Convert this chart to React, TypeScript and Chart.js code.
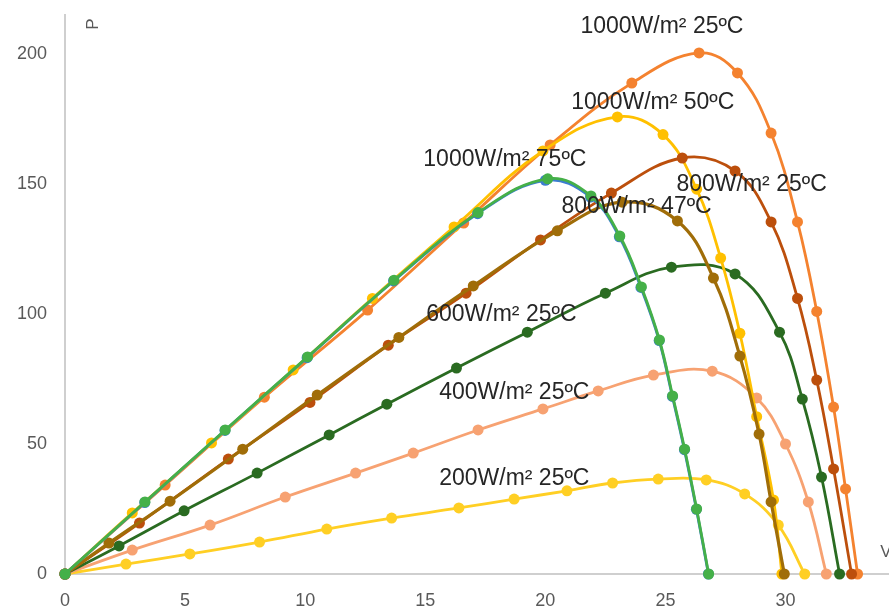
import React, { useEffect, useRef } from 'react';
import { Chart, registerables } from 'chart.js';

Chart.register(...registerables);

// P-V curves of a PV module: voltage V (x) and power P (y)
const v1000_25 = [0, 4.17, 8.3, 12.6, 16.6, 20.2, 23.6, 26.4, 28.0, 29.4, 30.5, 31.3, 32.0, 32.5, 33.0];
const p1000_25 = [0, 34.2, 68, 101.5, 135, 165, 188.8, 200.4, 192.7, 169.6, 135.4, 101, 64.2, 32.7, 0];

const v1000_50 = [0, 2.8, 6.1, 9.5, 12.8, 16.2, 19.9, 23.0, 24.9, 26.3, 27.3, 28.1, 28.8, 29.5, 29.85];
const p1000_50 = [0, 23.5, 50.4, 78.5, 106, 133.5, 162.7, 175.8, 169, 148, 121.5, 92.6, 60.5, 28.5, 0];

const v1000_75 = [0, 3.33, 6.67, 10.1, 13.7, 17.2, 20.1, 21.9, 23.1, 24.0, 24.75, 25.3, 25.8, 26.3, 26.8];
const p1000_75 = [0, 27.7, 55.4, 83.5, 113, 139, 152, 145.4, 130, 110.4, 90, 68.5, 48, 25, 0];

const v1000_75b = [0, 3.32, 6.66, 10.08, 13.68, 17.18, 20.0, 21.88, 23.08, 23.98, 24.74, 25.29, 25.79, 26.29, 26.79];
const p1000_75b = [0, 27.5, 55.2, 83.2, 112.7, 138.6, 151.4, 145.0, 129.7, 110.2, 89.8, 68.3, 47.8, 24.9, 0];

const v800_25 = [0, 3.1, 6.8, 10.2, 13.46, 16.7, 19.8, 22.75, 25.7, 27.9, 29.4, 30.5, 31.3, 32.0, 32.75];
const p800_25 = [0, 19.6, 44.2, 66, 88, 108, 128.5, 146.5, 160, 155, 135.4, 106, 74.6, 40.4, 0];

const v800_47 = [0, 1.83, 4.375, 7.4, 10.5, 13.9, 17.0, 20.5, 23.2, 25.5, 27.0, 28.1, 28.9, 29.4, 29.95];
const p800_47 = [0, 11.9, 28, 48, 68.8, 91, 110.8, 132, 143, 135.8, 113.8, 83.8, 53.8, 27.7, 0];

const v600_25 = [0, 2.25, 4.96, 8.0, 11.0, 13.4, 16.3, 19.25, 22.5, 25.25, 27.9, 29.75, 30.7, 31.5, 32.25];
const p600_25 = [0, 10.8, 24.3, 38.8, 53.5, 65.3, 79.2, 93, 108, 118, 115.4, 93, 67.3, 37.3, 0];

const v400_25 = [0, 2.8, 6.04, 9.17, 12.1, 14.5, 17.2, 19.9, 22.2, 24.5, 26.95, 28.8, 30.0, 30.95, 31.7];
const p400_25 = [0, 9.2, 18.8, 29.6, 38.8, 46.5, 55.4, 63.5, 70.4, 76.5, 78, 67.7, 50, 27.7, 0];

const v200_25 = [0, 2.54, 5.2, 8.1, 10.9, 13.6, 16.4, 18.7, 20.9, 22.8, 24.7, 26.7, 28.3, 29.7, 30.8];
const p200_25 = [0, 3.8, 7.7, 12.3, 17.3, 21.5, 25.4, 28.8, 32, 35, 36.5, 36.2, 30.8, 18.8, 0];

// Curve captions, anchored at (V, P)
const captionText = [
  '1000W/m² 25ºC',
  '1000W/m² 50ºC',
  '1000W/m² 75ºC',
  '800W/m² 25ºC',
  '800W/m² 47ºC',
  '600W/m² 25ºC',
  '400W/m² 25ºC',
  '200W/m² 25ºC',
];
const captionV = [21.46, 21.08, 14.92, 25.46, 20.67, 15.04, 15.58, 15.58];
const captionP = [210.4, 181.2, 159.2, 149.6, 141.2, 99.6, 69.6, 36.5];

const yTicks = [0, 50, 100, 150, 200];
const xTicks = [0, 5, 10, 15, 20, 25, 30];

const pts = (vs: number[], ps: number[]) => vs.map((v, i) => ({ x: v, y: ps[i] }));

const series = (vs: number[], ps: number[], color: string, width = 2.8) => ({
  data: pts(vs, ps),
  borderColor: color,
  backgroundColor: color,
  pointBackgroundColor: color,
  pointBorderColor: color,
  pointRadius: 5.5,
  pointBorderWidth: 0,
  borderWidth: width,
  tension: 0.4,
  clip: false as const,
  showLine: true,
});

const captionPlugin = {
  id: 'captions',
  afterDatasetsDraw(chart: any) {
    const { ctx, scales, chartArea } = chart;
    const xs = scales.x;
    const ys = scales.y;
    ctx.save();
    ctx.fillStyle = '#262626';
    ctx.font = '23px "Liberation Sans", Arial, sans-serif';
    ctx.textAlign = 'left';
    ctx.textBaseline = 'middle';
    captionText.forEach((t, i) => {
      ctx.fillText(t, xs.getPixelForValue(captionV[i]), ys.getPixelForValue(captionP[i]));
    });
    // axis titles
    ctx.fillStyle = '#595959';
    ctx.font = '17px "Liberation Sans", Arial, sans-serif';
    ctx.textAlign = 'center';
    ctx.save();
    ctx.translate(chartArea.left + 28, chartArea.top + 9);
    ctx.rotate(-Math.PI / 2);
    ctx.fillText('P', 0, 0);
    ctx.restore();
    ctx.textAlign = 'left';
    ctx.fillText('V', xs.getPixelForValue(33.95), chartArea.bottom - 22);
    ctx.restore();
  },
};

export default function App() {
  const ref = useRef<HTMLCanvasElement | null>(null);

  useEffect(() => {
    if (!ref.current) return;
    const chart = new Chart(ref.current, {
      type: 'scatter',
      data: {
        datasets: [
          series(v1000_75, p1000_75, '#45B048'),
          series(v1000_75b, p1000_75b, '#3B7DD0'),
          series(v800_47, p800_47, '#A06D08', 3.2),
          series(v800_25, p800_25, '#BC4F0C'),
          series(v1000_50, p1000_50, '#FFC000'),
          series(v1000_25, p1000_25, '#F4822F'),
          series(v600_25, p600_25, '#2A6B21'),
          series(v400_25, p400_25, '#F7A272'),
          series(v200_25, p200_25, '#FFCF24'),
        ],
      },
      options: {
        responsive: false,
        animation: false,
        layout: { padding: { top: 15, left: 0, right: 0, bottom: 0 } },
        plugins: {
          legend: { display: false },
          tooltip: { enabled: false },
        },
        scales: {
          x: {
            type: 'linear',
            min: 0,
            max: 34.33,
            afterFit: (s: any) => {
              s.height = 36;
              s.paddingLeft = 0;
              s.paddingRight = 0;
            },
            afterBuildTicks: (s: any) => {
              s.ticks = xTicks.map((v) => ({ value: v }));
            },
            grid: { display: false, drawTicks: false },
            border: { display: true, color: '#CFCFCF', width: 2 },
            ticks: {
              padding: 16,
              color: '#595959',
              font: { family: '"Liberation Sans", Arial, sans-serif', size: 18 },
              maxRotation: 0,
            },
          },
          y: {
            type: 'linear',
            min: 0,
            max: 215,
            afterFit: (s: any) => {
              s.width = 65;
              s.paddingTop = 0;
              s.paddingBottom = 0;
            },
            afterBuildTicks: (s: any) => {
              s.ticks = yTicks.map((v) => ({ value: v }));
            },
            grid: { display: false, drawTicks: false },
            border: { display: true, color: '#CFCFCF', width: 2 },
            ticks: {
              padding: 18,
              color: '#595959',
              font: { family: '"Liberation Sans", Arial, sans-serif', size: 18 },
            },
          },
        },
      },
      plugins: [captionPlugin],
    });
    return () => chart.destroy();
  }, []);

  return (
    <div
      style={{
        position: 'fixed',
        left: 0,
        top: 0,
        width: 889,
        height: 610,
        overflow: 'hidden',
        background: '#fff',
      }}
    >
      <canvas ref={ref} width={895} height={610} />
    </div>
  );
}
